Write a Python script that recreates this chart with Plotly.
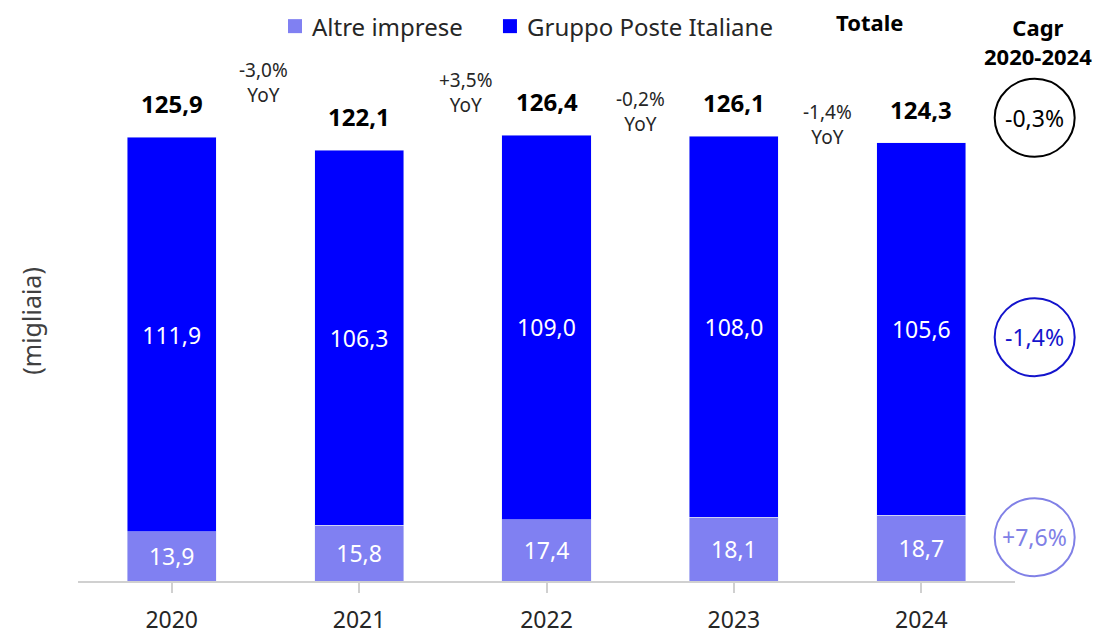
import plotly.graph_objects as go

years = ["2020", "2021", "2022", "2023", "2024"]
altre = [13.9, 15.8, 17.4, 18.1, 18.7]
gruppo = [111.9, 106.3, 109.0, 108.0, 105.6]
totale = [125.9, 122.1, 126.4, 126.1, 124.3]
yoy = ["-3,0%", "+3,5%", "-0,2%", "-1,4%"]
cagr = ["-0,3%", "-1,4%", "+7,6%"]

LIGHT = "#8080F2"
DARK = "#0000FF"
FONT = "Noto Sans"
TEXT = "#262626"


def fmt(v):
    return f"{v:.1f}".replace(".", ",")


x = list(range(len(years)))

fig = go.Figure()
fig.add_trace(go.Bar(
    x=x, y=altre, name="Altre imprese", marker_color=LIGHT,
    text=[fmt(v) for v in altre], textposition="inside", insidetextanchor="middle",
    textfont={"color": "white", "size": 23}, constraintext="none",
))
fig.add_trace(go.Bar(
    x=x, y=gruppo, name="Gruppo Poste Italiane", marker_color=DARK,
    text=[fmt(v) for v in gruppo], textposition="inside", insidetextanchor="middle",
    textfont={"color": "white", "size": 23}, constraintext="none",
))

# legend drawn by hand so the spacing matches
for tr, sx, tx in zip(fig.data, [0.2316, 0.461], [0.2476, 0.477]):
    fig.add_shape(type="rect", xref="paper", yref="paper", xsizemode="pixel", ysizemode="pixel",
                  xanchor=sx, yanchor=1.065, x0=-7, x1=7, y0=-7, y1=7,
                  fillcolor=tr.marker.color, line={"width": 0})
    fig.add_annotation(x=tx, xref="paper", y=1.065, yref="paper", text=tr.name, showarrow=False,
                       xanchor="left", yanchor="middle", font={"size": 24, "color": TEXT})

# totals above the stacks
for i, t in enumerate(totale):
    fig.add_annotation(x=i, y=t, text=f"<b>{fmt(t)}</b>", showarrow=False,
                       xanchor="center", yanchor="bottom", yshift=15,
                       font={"size": 24, "color": "black"})

# YoY labels between the bars
yoy_pos = [0.956, 0.937, 0.902, 0.877]
yoy_shift = [-2, 13, 0, 0]
for i, (lab, py, dx) in enumerate(zip(yoy, yoy_pos, yoy_shift)):
    fig.add_annotation(x=i + 0.5, xref="x", y=py, yref="paper", text=f"{lab}<br>YoY",
                       showarrow=False, xanchor="center", yanchor="middle", xshift=dx,
                       font={"size": 19, "color": TEXT})

# header labels
fig.add_annotation(x=0.845, xref="paper", y=1.073, yref="paper", text="<b>Totale</b>", showarrow=False,
                   xanchor="center", yanchor="middle", font={"size": 22, "color": "black"})
fig.add_annotation(x=1.025, xref="paper", y=1.035, yref="paper", text="<b>Cagr<br>2020-2024</b>",
                   showarrow=False, xanchor="center", yanchor="middle",
                   font={"size": 22, "color": "black"})

# y axis title
fig.add_annotation(x=-0.051, xref="paper", y=0.5, yref="paper", text="(migliaia)", textangle=-90,
                   showarrow=False, xanchor="center", yanchor="middle",
                   font={"size": 25, "color": "#404040"})

# CAGR circles
cagr_y = [0.889, 0.468, 0.084]
cagr_col = ["black", "#1414CC", "#8080E6"]
for lab, py, col in zip(cagr, cagr_y, cagr_col):
    fig.add_shape(type="circle", xref="paper", yref="paper", xsizemode="pixel", ysizemode="pixel",
                  xanchor=1.021, yanchor=py, x0=-40, x1=40, y0=-39, y1=39,
                  line={"color": col, "width": 2})
    fig.add_annotation(x=1.021, xref="paper", y=py, yref="paper", text=lab, showarrow=False,
                       xanchor="center", yanchor="middle", font={"size": 23, "color": col})

# page body has an 8px margin, so the figure is 8px smaller and shifted margins
fig.update_layout(
    width=1102, height=626,
    barmode="stack", bargap=0.525,
    margin={"l": 70, "r": 95, "t": 52, "b": 53, "autoexpand": False},
    paper_bgcolor="white", plot_bgcolor="white",
    font={"family": FONT, "color": TEXT},
    showlegend=False,
)
fig.update_xaxes(range=[-0.5, 4.5], tickvals=x, ticktext=years, showline=True, linecolor="#D0D0D0",
                 linewidth=2, ticks="outside", tickson="boundaries", ticklen=10, tickcolor="#D0D0D0",
                 tickwidth=2, tickfont={"size": 23, "color": TEXT}, ticklabelstandoff=7,
                 showgrid=False, zeroline=False, automargin=False)
fig.update_yaxes(range=[0, 147.7], showticklabels=False, showgrid=False, zeroline=False,
                 showline=False, automargin=False)

fig.write_html("out.html")
